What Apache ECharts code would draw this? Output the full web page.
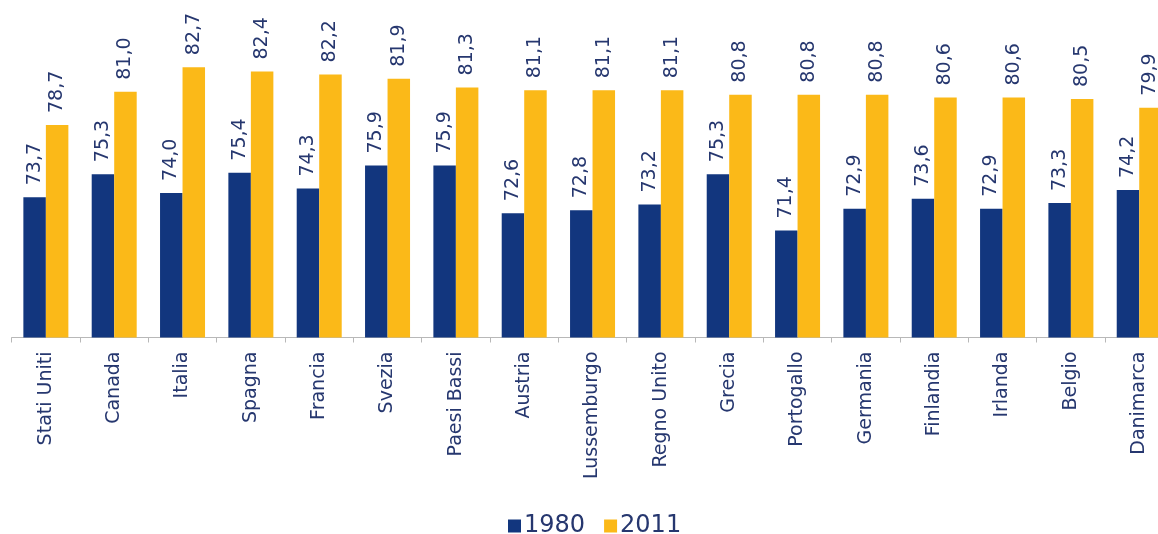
<!DOCTYPE html>
<html>
<head>
<meta charset="UTF-8">
<title>1980 - 2011</title>
<script src="https://cdn.jsdelivr.net/npm/echarts@6/dist/echarts.min.js"></script>
<style>
	html,body{margin:0;padding:0;background:#fff;}
	#chart{width:1158px;height:534px;}
</style>
</head>
<body>
<div id="chart"></div>
<script type="text/javascript">
// dati
var paesi = ['Stati Uniti','Canada','Italia','Spagna','Francia','Svezia','Paesi Bassi','Austria','Lussemburgo','Regno Unito','Grecia','Portogallo','Germania','Finlandia','Irlanda','Belgio','Danimarca'];
var anni = ['1980','2011'];
var val1980 = [73.7,75.3,74.0,75.4,74.3,75.9,75.9,72.6,72.8,73.2,75.3,71.4,72.9,73.6,72.9,73.3,74.2];
var val2011 = [78.7,81.0,82.7,82.4,82.2,81.9,81.3,81.1,81.1,81.1,80.8,80.8,80.8,80.6,80.6,80.5,79.9];

var blu = '#12367e';
var oro = '#fbb918';
var testo = '#26376f';
var font = 'DejaVu Sans';

function etichetta(p){
	return p.value.toFixed(1).replace('.', ',');
}

var myChart = echarts.init(document.getElementById('chart'));
myChart.setOption({
	animation:false,
	// il grafico originale e' tagliato a destra: la griglia esce dal bordo
	grid:{left:11.7, width:1161.7, top:5, bottom:196.5, outerBoundsMode:'none', containLabel:false},
	legend:{
		left:503, top:509,
		itemWidth:13, itemHeight:13, itemGap:19,
		icon:'rect',
		textStyle:{color:testo, fontFamily:font, fontSize:24, padding:[0,0,0,-2]},
		data:anni
	},
	xAxis:{
		type:'category',
		data:paesi,
		axisLine:{lineStyle:{color:'#b8b8b8', width:1}},
		axisTick:{show:true, length:5, lineStyle:{color:'#b8b8b8'}},
		axisLabel:{rotate:90, interval:0, margin:14, color:testo, fontFamily:font, fontSize:19}
	},
	yAxis:{
		type:'value', min:64, max:87,
		show:false,
		splitLine:{show:false}
	},
	series:[
		{
			name:anni[0], type:'bar', data:val1980,
			barWidth:22.5, barGap:'0%',
			itemStyle:{color:blu},
			label:{show:true, position:'top', rotate:90, align:'left', verticalAlign:'middle', distance:12,
				color:testo, fontFamily:font, fontSize:19, formatter:etichetta}
		},
		{
			name:anni[1], type:'bar', data:val2011,
			barWidth:22.5, barGap:'0%',
			itemStyle:{color:oro},
			label:{show:true, position:'top', rotate:90, align:'left', verticalAlign:'middle', distance:12,
				color:testo, fontFamily:font, fontSize:19, formatter:etichetta}
		}
	]
});
</script>
</body>
</html>
